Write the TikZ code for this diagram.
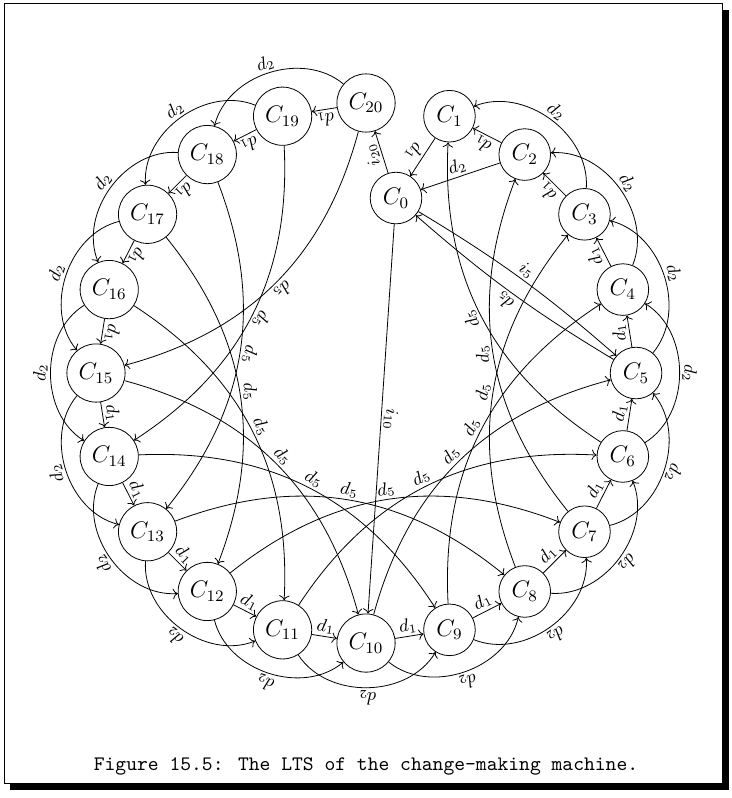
\documentclass[tikz,border=0pt]{standalone}
\usetikzlibrary{arrows.meta}

\begin{document}
\begin{tikzpicture}[x=1cm,y=1cm,
  state/.style={draw,circle,inner sep=3.3pt,font=\large,fill=white},
  lbl/.style={sloped,above,allow upside down,font=\small,inner sep=1.2pt}]
  \useasboundingbox (-6.432,-7.468) rectangle (6.414,6.555);
  % frame with shadow
  \fill (-6.25,-7.33) rectangle (6.37,6.38);
  \draw[fill=white] (-6.361,-7.205) rectangle (6.256,6.502);
  % states
  \node[state] (c0) at (0.527,3.075) {$C_0$};
  \foreach \k in {1,...,20}
    \node[state] (c\k) at ({90-18*\k}:4.745) {$C_{\k}$};
  % d1
  \foreach \k [evaluate=\k as \j using int(\k-1)] in {2,...,20}
    \draw[->] (c\k) -- node[lbl] {$d_1$} (c\j);
  \draw[->] (c1) -- node[lbl,below] {$d_1$} (c0);
  % d2
  \foreach \k [evaluate=\k as \j using int(\k-2)] in {3,...,20}
    \draw[<-] (c\j) to[bend left=58] node[lbl] {$d_2$} (c\k);
  \draw[<-] (c0) -- node[lbl] {$d_2$} (c2);
  % d5
  \foreach \k [evaluate=\k as \j using int(\k-5)] in {6,...,20}
    \draw[->] (c\k) to[bend left=30] node[lbl] {$d_5$} (c\j);
  \draw[->] (c5) to[bend left=5] node[lbl] {$d_5$} (c0);
  % coins in
  \draw[->] (c0) to[bend left=5] node[lbl] {$i_5$} (c5);
  \draw[->] (c0) -- node[lbl] {$i_{10}$} (c10);
  \draw[->] (c0) -- node[lbl] {$i_{20}$} (c20);
  \node[anchor=base] (cap) at (0,-6.976)
    {\fontsize{10.3}{12}\selectfont\ttfamily Figure 15.5: The LTS of the change-making machine.};
\end{tikzpicture}
\end{document}
